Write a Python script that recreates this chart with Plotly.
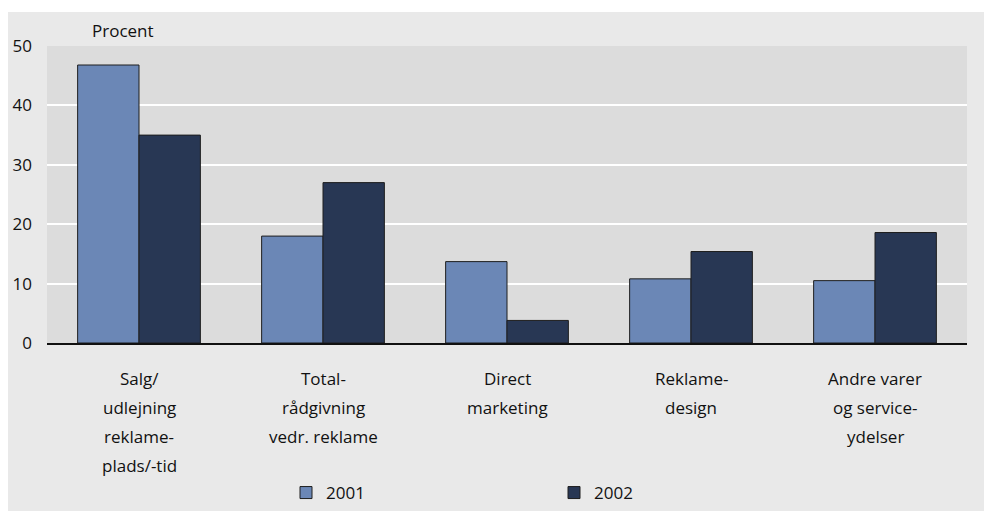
import plotly.graph_objects as go

categories = ["Salg/\nudlejning\nreklame-\nplads/-tid",
              "Total-\nrådgivning\nvedr. reklame",
              "Direct\nmarketing",
              "Reklame-\ndesign",
              "Andre varer\nog service-\nydelser"]
series_names = ["2001", "2002"]
values_2001 = [46.8, 18.0, 13.7, 10.8, 10.5]
values_2002 = [35.0, 27.0, 3.8, 15.4, 18.6]
y_ticks = [0, 10, 20, 30, 40, 50]

W, H = 984, 511
ML, MR, MT, MB = 47, 17, 46, 168
PW, PH = W - ML - MR, H - MT - MB
FONT = "Open Sans"
FS = 17

cat_ids = list(range(len(categories)))

fig = go.Figure()
colors = ["#6b87b6", "#283754"]
for name, vals, col in zip(series_names, [values_2001, values_2002], colors):
    fig.add_trace(go.Bar(x=cat_ids, y=vals, name=name,
                         marker=dict(color=col, line=dict(color="#1e1e1e", width=1))))

annotations = []
for cid, label in zip(cat_ids, categories):
    for i, line in enumerate(label.split("\n")):
        annotations.append(dict(x=cid, xref="x", y=0, yref="y", text=line,
                                showarrow=False, yanchor="middle", xanchor="center",
                                yshift=-35 - 29.3 * i,
                                font=dict(family=FONT, size=FS, color="#111")))
annotations.append(dict(x=(123 - ML) / PW, xref="paper", y=(H - MB - 30) / PH, yref="paper",
                        text="Procent", showarrow=False, xanchor="center", yanchor="middle",
                        font=dict(family=FONT, size=FS, color="#111")))

shapes = [
    dict(type="rect", xref="paper", yref="paper", x0=-ML / PW, x1=(W - ML) / PW,
         y0=(PH + MT) / PH, y1=(PH + MT - 12) / PH, fillcolor="white", line=dict(width=0), layer="above"),
    dict(type="rect", xref="paper", yref="paper", x0=-ML / PW, x1=(8 - ML) / PW,
         y0=-MB / PH, y1=(PH + MT) / PH, fillcolor="white", line=dict(width=0), layer="above"),
]

fig.update_layout(
    width=W, height=H,
    margin=dict(l=ML, r=MR, t=MT, b=MB, pad=0, autoexpand=False),
    paper_bgcolor="#e9e9e9", plot_bgcolor="#dcdcdc",
    barmode="group", bargap=0.333, bargroupgap=0,
    font=dict(family=FONT, size=FS, color="#111"),
    showlegend=True,
    legend=dict(orientation="h", xref="container", yref="container",
                x=286 / W, xanchor="left", y=(H - 493) / H, yanchor="middle",
                entrywidth=223, entrywidthmode="pixels", itemwidth=30,
                font=dict(family=FONT, size=FS, color="#111"), bgcolor="rgba(0,0,0,0)",
                traceorder="normal"),
    annotations=annotations, shapes=shapes,
)
fig.update_xaxes(range=[-0.5, len(categories) - 0.5], showticklabels=False, showgrid=False,
                 showline=True, linecolor="#111", linewidth=1.5, zeroline=False, ticks="")
fig.update_yaxes(range=[0, 50], tickvals=y_ticks, showgrid=True, gridcolor="white", gridwidth=2,
                 zeroline=False, showline=False, ticks="", ticklabelstandoff=14,
                 tickfont=dict(family=FONT, size=FS, color="#111"))

fig.write_html("out.html")
